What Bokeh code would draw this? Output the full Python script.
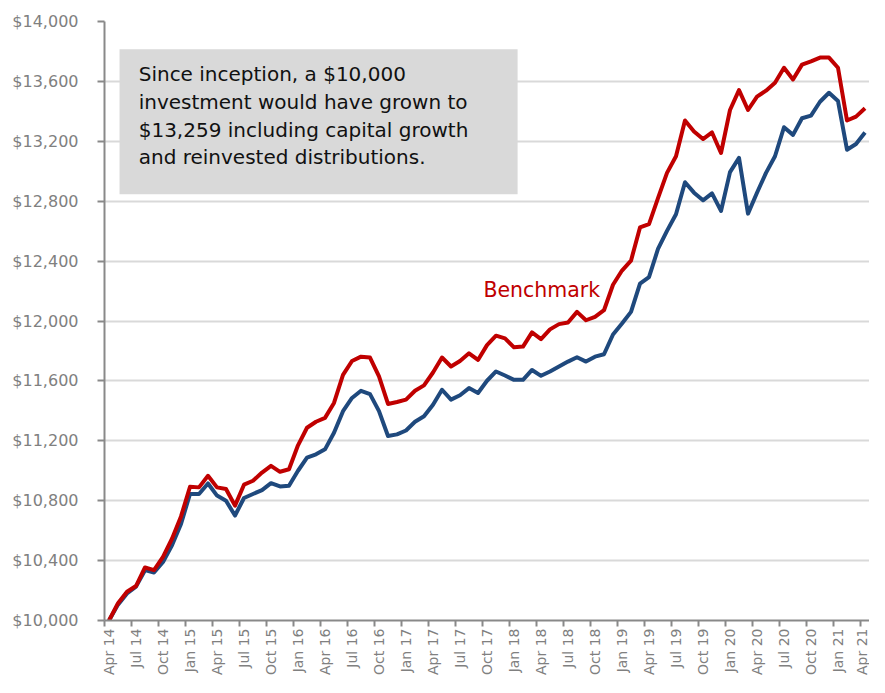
from math import pi
from bokeh.plotting import figure
from bokeh.models import FixedTicker, NumeralTickFormatter, Range1d, BoxAnnotation, Label
from bokeh.embed import file_html
from bokeh.resources import INLINE

# ---- data ----
tick_labels = ["Apr 14", "Jul 14", "Oct 14", "Jan 15", "Apr 15", "Jul 15", "Oct 15",
               "Jan 16", "Apr 16", "Jul 16", "Oct 16", "Jan 17", "Apr 17", "Jul 17",
               "Oct 17", "Jan 18", "Apr 18", "Jul 18", "Oct 18", "Jan 19", "Apr 19",
               "Jul 19", "Oct 19", "Jan 20", "Apr 20", "Jul 20", "Oct 20", "Jan 21", "Apr 21"]

fund = [10000, 10106, 10181, 10226, 10336, 10320, 10391, 10502, 10645, 10845,
        10845, 10915, 10834, 10800, 10701, 10818, 10845, 10871, 10917, 10895,
        10900, 11000, 11088, 11110, 11143, 11254, 11398, 11486, 11534, 11512,
        11398, 11232, 11243, 11269, 11327, 11364, 11441, 11541, 11475, 11504,
        11552, 11519, 11601, 11663, 11636, 11607, 11607, 11673, 11634, 11663,
        11696, 11729, 11758, 11729, 11762, 11778, 11910, 11983, 12061, 12249,
        12293, 12481, 12602, 12713, 12927, 12857, 12806, 12852, 12735, 12994,
        13089, 12717, 12857, 12989, 13100, 13294, 13243, 13354, 13372, 13464,
        13524, 13469, 13144, 13182, 13259]

benchmark = [10000, 10115, 10192, 10230, 10354, 10336, 10425, 10546, 10695, 10893,
             10889, 10966, 10889, 10878, 10767, 10907, 10933, 10988, 11033, 10993,
             11010, 11170, 11287, 11327, 11353, 11453, 11640, 11733, 11762, 11756,
             11630, 11446, 11459, 11475, 11534, 11570, 11656, 11756, 11696, 11733,
             11784, 11740, 11839, 11902, 11884, 11824, 11829, 11924, 11879, 11944,
             11979, 11990, 12061, 12005, 12028, 12072, 12242, 12337, 12403, 12625,
             12647, 12820, 12989, 13100, 13339, 13266, 13215, 13259, 13122, 13409,
             13542, 13409, 13498, 13538, 13591, 13691, 13613, 13712, 13734, 13759,
             13759, 13691, 13339, 13365, 13421]

y_ticks = list(range(10000, 14001, 400))
note_lines = ["Since inception, a $10,000",
              "investment would have grown to",
              "$13,259 including capital growth",
              "and reinvested distributions."]

n = len(fund)
x = list(range(n))
label_pos = list(range(0, n, 3))
boundaries = [i - 0.5 for i in range(0, n, 3)]

AX = "#898989"
FONT = "DejaVu Sans"

p = figure(width=869, height=677, x_range=Range1d(-0.5, n - 0.5),
           y_range=Range1d(10000, 14000), output_backend="svg",
           toolbar_location=None, min_border_left=104, min_border_right=0,
           min_border_top=21, min_border_bottom=50)
p.outline_line_color = None
p.background_fill_color = "white"
p.border_fill_color = "white"

p.xgrid.visible = False
p.ygrid.grid_line_color = "#d9d9d9"
p.ygrid.grid_line_width = 2

# y axis
p.yaxis.ticker = FixedTicker(ticks=y_ticks)
p.yaxis.formatter = NumeralTickFormatter(format="$0,0")
p.yaxis.axis_line_color = AX
p.yaxis.axis_line_width = 2
p.yaxis.major_tick_line_color = AX
p.yaxis.major_tick_line_width = 2
p.yaxis.major_tick_out = 7
p.yaxis.major_tick_in = 0
p.yaxis.minor_tick_line_color = None
p.yaxis.major_label_standoff = 19
p.yaxis.major_label_text_font = FONT
p.yaxis.major_label_text_font_size = "16px"
p.yaxis.major_label_text_color = "#808080"

# x axis
p.xaxis.ticker = FixedTicker(ticks=label_pos, minor_ticks=boundaries)
p.xaxis.major_label_overrides = {i: lab for i, lab in zip(label_pos, tick_labels)}
p.xaxis.axis_line_color = AX
p.xaxis.axis_line_width = 2
p.xaxis.major_tick_line_color = None
p.xaxis.major_tick_out = 6
p.xaxis.major_tick_in = 0
p.xaxis.minor_tick_line_color = AX
p.xaxis.minor_tick_line_width = 2
p.xaxis.minor_tick_out = 6
p.xaxis.minor_tick_in = 0
p.xaxis.major_label_orientation = pi / 2
p.xaxis.major_label_standoff = 2
p.xaxis.major_label_text_font = FONT
p.xaxis.major_label_text_font_size = "14px"
p.xaxis.major_label_text_color = "#808080"

# lines
p.line(x, fund, line_color="#1F497D", line_width=4, line_join="round")
p.line(x, benchmark, line_color="#C00000", line_width=4, line_join="round")

# note box
p.add_layout(BoxAnnotation(left=1.17, right=45.4, top=13814, bottom=12846,
                           fill_color="#d9d9d9", fill_alpha=1.0, line_color=None))
for t, yy in zip(note_lines, [13648, 13462, 13277, 13098]):
    p.add_layout(Label(x=3.3, y=yy, text=t, text_font=FONT, text_font_size="20px",
                       text_color="#111111", text_baseline="middle", text_align="left"))

p.add_layout(Label(x=41.6, y=12209, text="Benchmark", text_font=FONT,
                   text_font_size="20.5px", text_color="#C00000",
                   text_baseline="middle", text_align="left"))

open("out.html", "w").write(file_html(p, INLINE))
